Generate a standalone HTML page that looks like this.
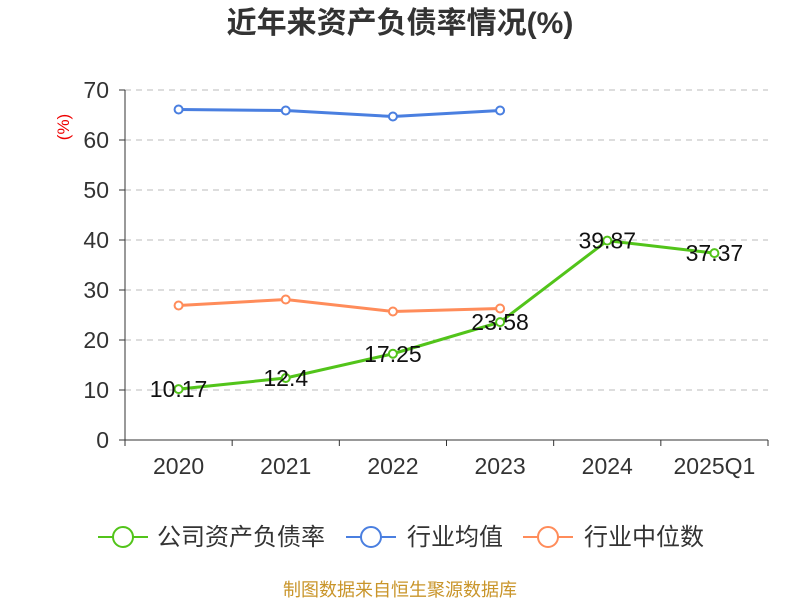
<!DOCTYPE html>
<html><head><meta charset="utf-8"><style>
body{margin:0;background:#fff;}
svg text{font-family:"Liberation Sans","Noto Sans CJK SC",sans-serif;}
</style></head><body>
<svg width="800" height="600" xmlns="http://www.w3.org/2000/svg" id="chart">
<text x="400" y="33" text-anchor="middle" font-size="30" font-weight="bold" fill="#333">近年来资产负债率情况(%)</text>
<text x="0" y="0" transform="translate(69,127) rotate(-90)" text-anchor="middle" font-size="17" fill="#e00">(%)</text>
<g id="grid"></g><g id="axes"></g><g id="series"></g>
<g>
 <g><line x1="98" y1="537" x2="148" y2="537" stroke="#52c41a" stroke-width="2"/><circle cx="123" cy="537" r="10" fill="#fff" stroke="#52c41a" stroke-width="2"/><text x="157" y="545" font-size="24" fill="#333">公司资产负债率</text></g>
 <g><line x1="346" y1="537" x2="396" y2="537" stroke="#4a7fe0" stroke-width="2"/><circle cx="371" cy="537" r="10" fill="#fff" stroke="#4a7fe0" stroke-width="2"/><text x="407" y="545" font-size="24" fill="#333">行业均值</text></g>
 <g><line x1="523" y1="537" x2="573" y2="537" stroke="#ff8c5a" stroke-width="2"/><circle cx="548" cy="537" r="10" fill="#fff" stroke="#ff8c5a" stroke-width="2"/><text x="584" y="545" font-size="24" fill="#333">行业中位数</text></g>
</g>
<text x="400" y="596" text-anchor="middle" font-size="18" fill="#c9952a">制图数据来自恒生聚源数据库</text>
</svg>
<script>
const categories=["2020","2021","2022","2023","2024","2025Q1"];
const companyValues=[10.17,12.4,17.25,23.58,39.87,37.37];
const avgValues=[66.1,65.9,64.7,65.9];
const medianValues=[26.9,28.1,25.7,26.3];
const yTicks=[0,10,20,30,40,50,60,70];
const NS="http://www.w3.org/2000/svg";
const x0=125,x1=768,yB=440,yT=90,yMax=70;
const bw=(x1-x0)/categories.length;
const X=i=>x0+bw*(i+0.5);
const Y=v=>yB-(v/yMax)*(yB-yT);
function mk(t,a,p){const e=document.createElementNS(NS,t);for(const k in a)e.setAttribute(k,a[k]);p.appendChild(e);return e;}
const grid=document.getElementById('grid'),axes=document.getElementById('axes'),ser=document.getElementById('series');
yTicks.forEach(v=>{
 if(v>0){const g=mk('line',{x1:x0,x2:x1,y1:Y(v),y2:Y(v),stroke:'#bbb','stroke-dasharray':'6,5'},grid);
 
 }
 const t=mk('text',{x:x0-16,y:Y(v)+8,'text-anchor':'end','font-size':23,fill:'#333'},axes);t.textContent=v;
 
 
 mk('line',{x1:x0-6,x2:x0,y1:Y(v),y2:Y(v),stroke:'#333'},axes);
});
const ya=mk('line',{x1:x0,x2:x0,y1:yT,y2:yB,stroke:'#333'},axes);


const xa=mk('line',{x1:x0,x2:x1,y1:yB,y2:yB,stroke:'#333'},axes);


for(let i=0;i<=categories.length;i++)mk('line',{x1:x0+bw*i,x2:x0+bw*i,y1:yB,y2:yB+6,stroke:'#333'},axes);
categories.forEach((c,i)=>{const t=mk('text',{x:X(i),y:yB+34,'text-anchor':'middle','font-size':23,fill:'#333'},axes);t.textContent=c;
 
 });
function series(vals,color,name,labels){
 const pl=mk('polyline',{points:vals.map((v,i)=>X(i)+','+Y(v)).join(' '),fill:'none',stroke:color,'stroke-width':3},ser);
 
 
 vals.forEach((v,i)=>{const c=mk('circle',{cx:X(i),cy:Y(v),r:4,fill:'#fff',stroke:color,'stroke-width':2},ser);
  
  
  if(labels){const t=mk('text',{x:X(i),y:Y(v)+8,'text-anchor':'middle','font-size':23,fill:'#111'},ser);t.textContent=v;
   
   }
 });
}
series(avgValues,'#4a7fe0','industry-avg',false);
series(medianValues,'#ff8c5a','industry-median',false);
series(companyValues,'#52c41a','company',true);
</script>
</body></html>
